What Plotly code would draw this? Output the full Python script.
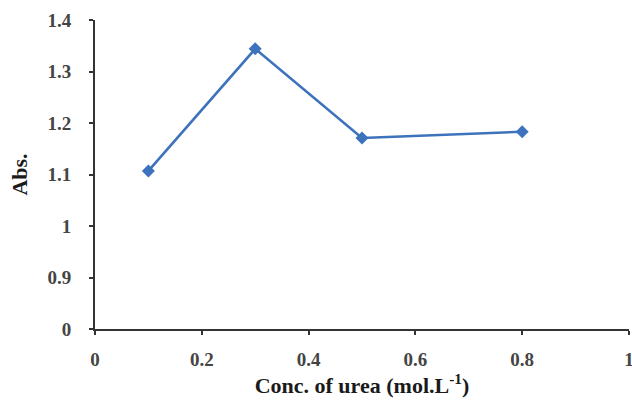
import plotly.graph_objects as go

# Urea concentration (mol/L) vs absorbance
conc = [0.1, 0.3, 0.5, 0.8]
absorbance = [1.107, 1.344, 1.171, 1.183]

# Broken y-axis: the bottom tick stands in for zero
y_tickvals = [0.8, 0.9, 1.0, 1.1, 1.2, 1.3, 1.4]
y_ticktext = ["0", "0.9", "1", "1.1", "1.2", "1.3", "1.4"]
x_tickvals = [0, 0.2, 0.4, 0.6, 0.8, 1]
x_ticktext = ["0", "0.2", "0.4", "0.6", "0.8", "1"]

font_family = "Liberation Serif"
axis_color = "#333333"
tick_font = dict(family=font_family, size=19, color="#444444", weight="bold")
title_font = dict(family=font_family, size=22, color="#1a1a1a", weight="bold")

fig = go.Figure(
    go.Scatter(
        x=conc,
        y=absorbance,
        mode="lines+markers",
        line=dict(color="#3D72BD", width=2.6),
        marker=dict(symbol="diamond", size=10, color="#3D72BD"),
        showlegend=False,
    )
)

fig.update_xaxes(
    range=[0, 1],
    tickvals=x_tickvals,
    ticktext=x_ticktext,
    ticks="outside",
    ticklen=4,
    tickwidth=2,
    tickcolor=axis_color,
    showline=True,
    linecolor=axis_color,
    linewidth=2,
    showgrid=False,
    zeroline=False,
    tickfont=tick_font,
    ticklabelstandoff=8,
    ticklabeloverflow="allow",
    title=dict(text="Conc. of urea (mol.L<sup>-1</sup>)", font=title_font, standoff=6),
)
fig.update_yaxes(
    range=[0.8, 1.4],
    tickvals=y_tickvals,
    ticktext=y_ticktext,
    ticks="outside",
    ticklen=4,
    tickwidth=2,
    tickcolor=axis_color,
    showline=True,
    linecolor=axis_color,
    linewidth=2,
    showgrid=False,
    zeroline=False,
    tickfont=tick_font,
    ticklabelstandoff=14,
    ticklabeloverflow="allow",
    title=dict(text="Abs.", font=title_font, standoff=14),
)

fig.update_layout(
    width=632,
    height=400,
    margin=dict(l=95, r=3, t=20, b=71, autoexpand=False),
    paper_bgcolor="white",
    plot_bgcolor="white",
)

fig.write_html("out.html")
